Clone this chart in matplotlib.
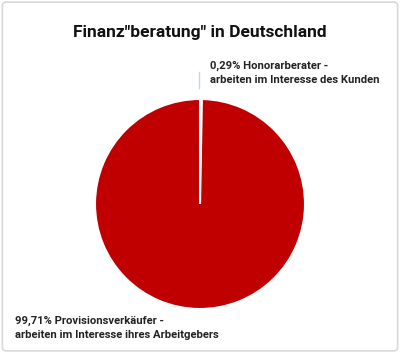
import matplotlib.pyplot as plt
from matplotlib.patches import FancyBboxPatch

labels = ["0,29% Honorarberater -\narbeiten im Interesse des Kunden",
          "99,71% Provisionsverkäufer -\narbeiten im Interesse ihres Arbeitgebers"]
shares = [0.29, 99.71]
colors = ["#DDEBF7", "#C00000"]

plt.rcParams["font.family"] = ["Roboto", "DejaVu Sans"]

fig = plt.figure(figsize=(4.0, 3.53), dpi=100)
fig.patch.set_facecolor("white")

# light frame around the chart
frame = FancyBboxPatch((0.006, 0.006), 0.988, 0.988, boxstyle="round,pad=0,rounding_size=0.01",
                       transform=fig.transFigure, fill=False, edgecolor="#D9D9D9", linewidth=1.2)
fig.patches.append(frame)

fig.text(0.5, 0.907, 'Finanz"beratung" in Deutschland', ha="center", va="center",
         fontsize=12.5, fontweight="bold", color="#111111")

ax = fig.add_axes([0.2375, 0.1246, 0.525, 0.595])
wedges, _ = ax.pie(shares, colors=colors, startangle=90, counterclock=False,
                   wedgeprops=dict(edgecolor="white", linewidth=1.5))
ax.set_xlim(-1, 1)
ax.set_ylim(-1, 1)
ax.set_aspect("equal")

# leader line for the tiny slice
ax.plot([-0.01, -0.01], [1.1, 1.26], color="#BDD7EE", linewidth=1, clip_on=False)

fig.text(0.525, 0.795, labels[0], ha="left", va="center", fontsize=8.1,
         fontweight="bold", color="#222222", linespacing=1.5)
fig.text(0.037, 0.071, labels[1], ha="left", va="center", fontsize=8.1,
         fontweight="bold", color="#222222", linespacing=1.5)

fig.savefig("out.png", dpi=100)
